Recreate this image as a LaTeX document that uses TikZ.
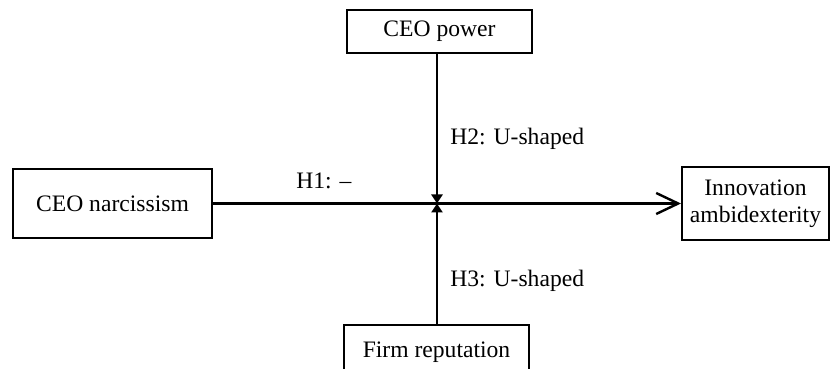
\documentclass[tikz,border=0pt]{standalone}
\usepackage{fontspec}
\setmainfont{Liberation Serif}
\usetikzlibrary{arrows.meta}
\begin{document}
\begin{tikzpicture}[x=0.5pt,y=-0.5pt,
  box/.style={draw,line width=1pt,rectangle,inner sep=0pt,align=center,font=\fontsize{11.8}{13.5}\selectfont},
  conn/.style={line width=1.2pt},
  lab/.style={font=\fontsize{11.8}{14}\selectfont,inner sep=0pt}]
\useasboundingbox (0,0) rectangle (831,369);
\clip (0,0) rectangle (831,369);
\node[box,minimum width=92.5pt,minimum height=21.5pt] (power) at (439.5,31.5) {CEO power};
\node[box,minimum width=99.5pt,minimum height=34.5pt] (narc) at (112.5,203.5) {CEO narcissism};
\node[box,minimum width=73.5pt,minimum height=36.5pt] (innov) at (755.5,203.5) {Innovation\\ambidexterity};
\node[box,minimum width=92.5pt,minimum height=27pt] (firm) at (436.5,352) {Firm reputation};
\coordinate (m) at (437,203.5);
\draw[conn,-{Straight Barb[length=11pt,width=10.5pt,line width=1.2pt]}] (narc.east) -- (innov.west);
\draw[conn,-{Triangle[length=4.5pt,width=5.5pt]}] (m |- power.south) -- (m);
\draw[conn,-{Triangle[length=4.5pt,width=5.5pt]}] (m |- firm.north) -- (m);
\node[lab,anchor=west] (h1) at (296,181) {H1: –};
\node[lab,anchor=west] (h2) at (450,139) {H2: U-shaped};
\node[lab,anchor=west] (h3) at (450,281) {H3: U-shaped};
\end{tikzpicture}
\end{document}
